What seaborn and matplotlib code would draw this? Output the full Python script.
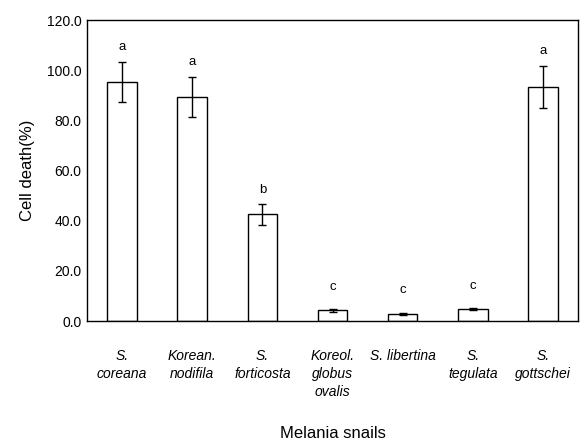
import pandas as pd
import matplotlib
matplotlib.use("Agg")
import matplotlib.pyplot as plt
import seaborn as sns

species = ["S.\ncoreana", "Korean.\nnodifila", "S.\nforticosta",
           "Koreol.\nglobus\novalis", "S. libertina", "S.\ntegulata",
           "S.\ngottschei"]
cell_death = [95.4, 89.4, 42.5, 4.3, 3.0, 4.9, 93.3]
sd = [8.0, 8.0, 4.0, 0.5, 0.4, 0.4, 8.5]
groups = ["a", "a", "b", "c", "c", "c", "a"]

df = pd.DataFrame({"species": species, "death": cell_death, "sd": sd})

sns.set_style("white")
plt.rcParams["font.family"] = ["Liberation Sans", "DejaVu Sans"]
plt.rcParams["text.color"] = "black"
plt.rcParams["axes.labelcolor"] = "black"
plt.rcParams["xtick.color"] = "black"
plt.rcParams["ytick.color"] = "black"

fig = plt.figure(figsize=(5.87, 4.46), dpi=100)
ax = fig.add_axes([0.148, 0.280, 0.837, 0.675])

sns.barplot(data=df, x="species", y="death", color="white",
            edgecolor="black", linewidth=1.0, width=0.42, ax=ax)
ax.errorbar(range(len(species)), df["death"], yerr=df["sd"], fmt="none",
            ecolor="black", elinewidth=1.0, capsize=3, capthick=1.0)

for i, (m, s, g) in enumerate(zip(cell_death, sd, groups)):
    # small bars get a little more room above them
    off = 3.5 if m > 20 else 6.5
    ax.text(i, m + s + off, g, ha="center", va="bottom", fontsize=9.5)

ax.set_xlim(-0.5, len(species) - 0.5)
ax.set_ylim(0, 120)
ax.set_yticks(range(0, 121, 20))
ax.set_yticklabels([f"{v:.1f}" for v in range(0, 121, 20)], fontsize=10)
ax.set_xticks(range(len(species)))
ax.set_xticklabels(species, fontsize=10, style="italic", linespacing=1.35)
ax.tick_params(axis="x", length=0, pad=20)
ax.tick_params(axis="y", length=0, pad=4)

for sp in ax.spines.values():
    sp.set_color("black")
    sp.set_linewidth(1.0)

ax.set_ylabel("Cell death(%)", fontsize=12, labelpad=8)
ax.set_xlabel("Melania snails", fontsize=12, labelpad=20)

fig.savefig("out.png", dpi=100)
